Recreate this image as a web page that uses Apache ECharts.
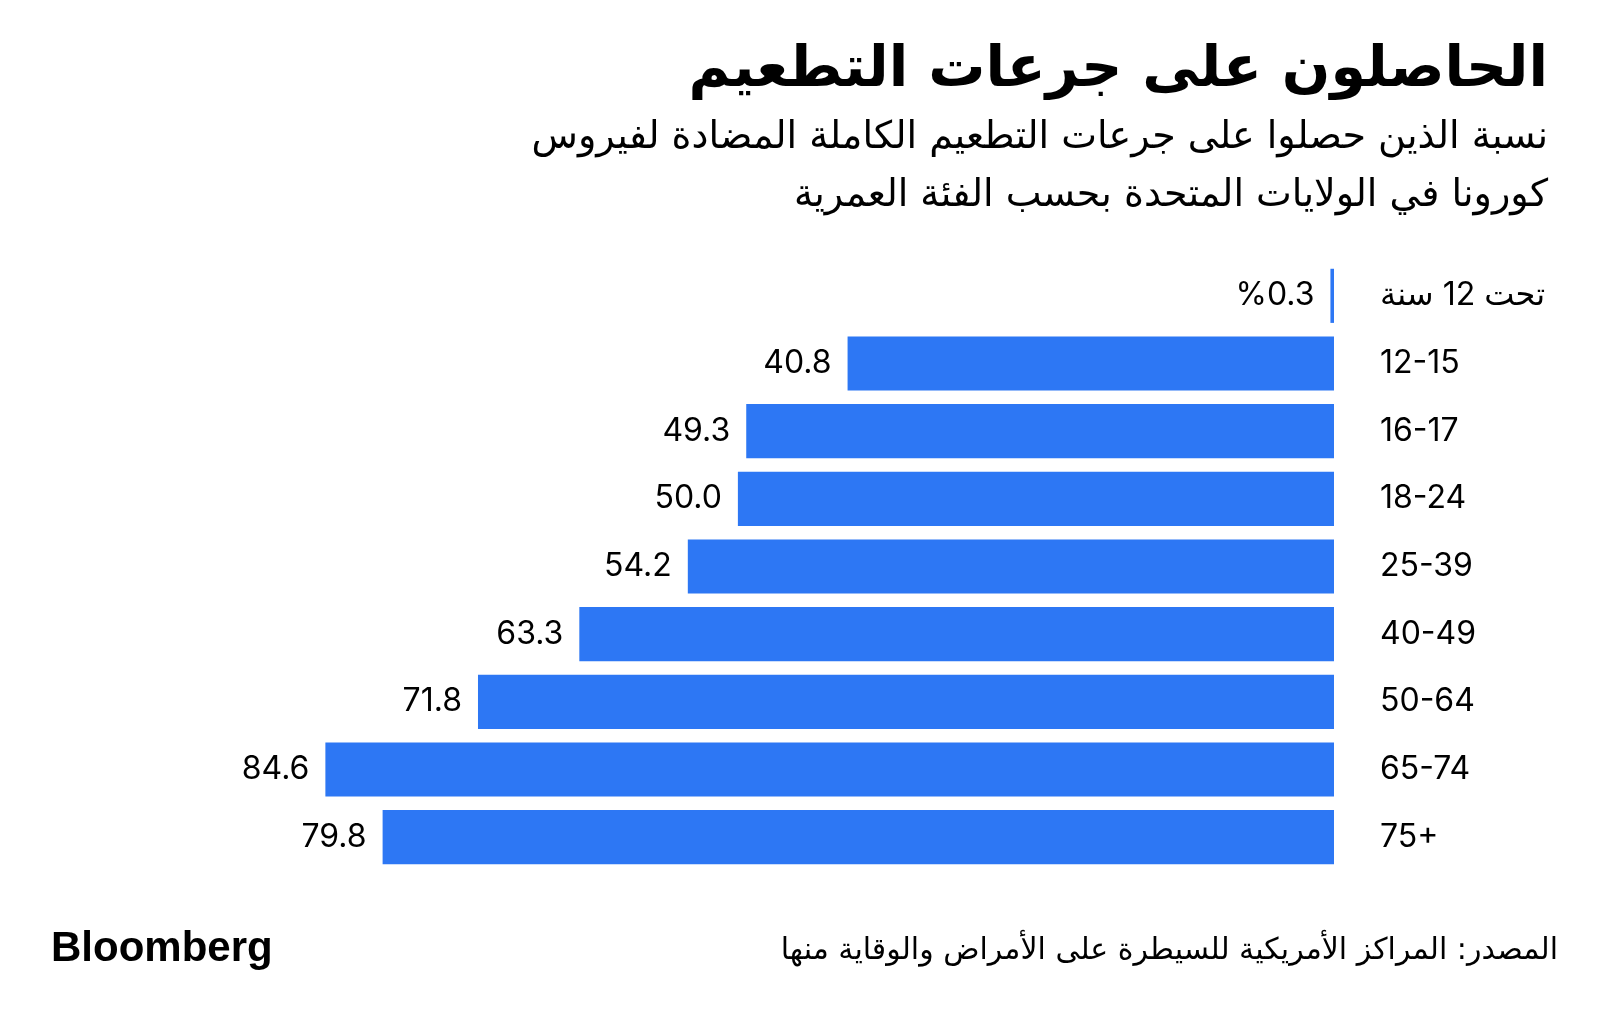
<!DOCTYPE html>
<html>
<head>
<meta charset="utf-8">
<script src="https://cdn.jsdelivr.net/npm/echarts@6/dist/echarts.min.js"></script>
<style>
html,body{margin:0;padding:0;background:#fff;}
#chart{width:1600px;height:1024px;}
</style>
</head>
<body>
<div id="chart"></div>
<script>
const categories = ["\u202Bتحت 12 سنة\u202C", "12-15", "16-17", "18-24", "25-39", "40-49", "50-64", "65-74", "75+"];
const values = [0.3, 40.8, 49.3, 50.0, 54.2, 63.3, 71.8, 84.6, 79.8];
const valueLabels = ["%0.3", "40.8", "49.3", "50.0", "54.2", "63.3", "71.8", "84.6", "79.8"];
const titleText = "الحاصلون على جرعات التطعيم";
const subtitleLines = ["نسبة الذين حصلوا على جرعات التطعيم الكاملة المضادة لفيروس", "كورونا في الولايات المتحدة بحسب الفئة العمرية"];
const sourceText = "المصدر: المراكز الأمريكية للسيطرة على الأمراض والوقاية منها";
const brandText = "Bloomberg";

const FONT = "Inter, 'Liberation Sans', 'DejaVu Sans', sans-serif";
const AR = "'DejaVu Sans', sans-serif";
const chart = echarts.init(document.getElementById('chart'), null, {renderer: 'canvas'});
chart.setOption({
  backgroundColor: '#ffffff',
  animation: false,
  title: [
    {text: titleText, right: 47, top: 38, textStyle: {fontFamily: AR, fontSize: 57, fontWeight: 'bold', color: '#000'}},
    {text: subtitleLines[0], right: 47, top: 114, textStyle: {fontFamily: AR, fontSize: 38, fontWeight: 'normal', color: '#000'}},
    {text: subtitleLines[1], right: 47, top: 172, textStyle: {fontFamily: AR, fontSize: 38, fontWeight: 'normal', color: '#000'}},
    {text: sourceText, right: 37, top: 931, textStyle: {fontFamily: AR, fontSize: 30, fontWeight: 'normal', color: '#000'}},
    {text: brandText, left: 46, top: 923, textStyle: {fontFamily: "'Liberation Sans', Arial, sans-serif", fontSize: 42, fontWeight: 'bold', color: '#000', letterSpacing: -1.5}}
  ],
  grid: {left: 261, right: 266, top: 262, bottom: 153, containLabel: false},
  xAxis: {
    type: 'value', inverse: true, min: 0, max: 90,
    show: false
  },
  yAxis: {
    type: 'category', inverse: true, position: 'right',
    data: categories,
    axisLine: {show: false}, axisTick: {show: false},
    axisLabel: {margin: 46, align: 'left', fontFamily: FONT, fontSize: 32, color: '#000'}
  },
  series: [{
    type: 'bar',
    data: values,
    barCategoryGap: '20%',
    itemStyle: {color: '#2d77f4'},
    label: {
      show: true, position: 'left', distance: 16,
      fontFamily: FONT, fontSize: 32, color: '#000',
      formatter: p => valueLabels[p.dataIndex]
    }
  }]
});
</script>
</body>
</html>
